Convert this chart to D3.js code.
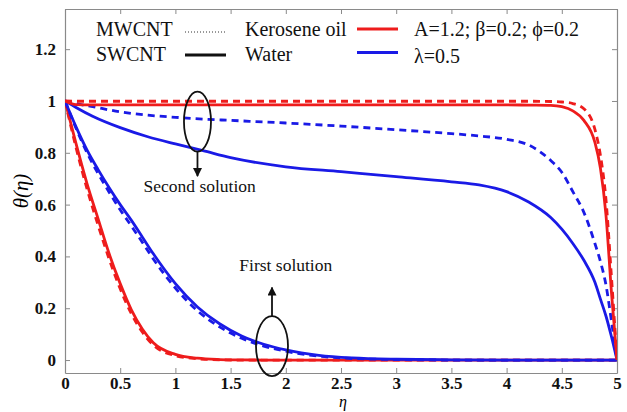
<!DOCTYPE html>
<html>
<head>
<meta charset="utf-8">
<script src="https://cdn.jsdelivr.net/npm/d3@7"></script>
<style>
    body { margin: 0; background: #fff; }
    svg { display: block; }
    .legend-text { font-family: "Liberation Serif", "Times New Roman", serif; font-size: 20px; fill: #111; }
    .note { font-family: "Liberation Serif", "Times New Roman", serif; font-size: 17.5px; fill: #111; }
</style>
</head>
<body>
<svg id="chart" width="627" height="412"></svg>
<script>
// eta grids
const etaFirst = [0, 0.1, 0.2, 0.3, 0.4, 0.5, 0.6, 0.7, 0.8, 1.0, 1.2, 1.4, 1.6, 1.8, 2.0, 2.3, 2.6, 3.0, 3.5, 4.0, 5.0];
const etaSecond = [0, 0.1, 0.25, 0.5, 0.75, 1.0, 1.25, 1.5, 2.0, 2.5, 3.0, 3.5, 3.75, 4.0, 4.2, 4.4, 4.5, 4.6, 4.7, 4.8, 4.85, 4.9, 4.95, 5.0];

// first solution
const redSolidFirst  = [1, 0.835, 0.68, 0.545, 0.41, 0.295, 0.195, 0.12, 0.067, 0.022, 0.007, 0.002, 0.0005, 0, 0, 0, 0, 0, 0, 0, 0];
const redDashFirst   = [1, 0.82, 0.66, 0.52, 0.39, 0.275, 0.18, 0.108, 0.058, 0.017, 0.005, 0.001, 0, 0, 0, 0, 0, 0, 0, 0, 0];
const blueSolidFirst = [1, 0.9, 0.81, 0.735, 0.665, 0.6, 0.54, 0.475, 0.41, 0.295, 0.205, 0.14, 0.093, 0.061, 0.039, 0.018, 0.008, 0.003, 0.001, 0, 0];
const blueDashFirst  = [1, 0.895, 0.8, 0.72, 0.648, 0.58, 0.518, 0.455, 0.39, 0.278, 0.19, 0.128, 0.084, 0.054, 0.034, 0.015, 0.006, 0.002, 0, 0, 0];

// second solution
const redSolidSecond  = [1, 0.986, 0.985, 0.985, 0.985, 0.985, 0.985, 0.985, 0.985, 0.985, 0.985, 0.985, 0.985, 0.985, 0.984, 0.983, 0.978, 0.962, 0.925, 0.84, 0.74, 0.56, 0.26, 0];
const redDashSecond   = [1, 0.999, 0.999, 0.999, 0.999, 0.999, 0.999, 0.999, 0.999, 0.999, 0.999, 0.999, 0.999, 0.999, 0.999, 0.998, 0.996, 0.99, 0.97, 0.89, 0.79, 0.62, 0.32, 0];
const blueSolidSecond = [1, 0.975, 0.941, 0.897, 0.862, 0.834, 0.808, 0.781, 0.746, 0.727, 0.708, 0.688, 0.676, 0.65, 0.61, 0.55, 0.505, 0.45, 0.385, 0.3, 0.235, 0.17, 0.09, 0];
const blueDashSecond  = [1, 0.99, 0.978, 0.958, 0.945, 0.937, 0.93, 0.925, 0.915, 0.903, 0.889, 0.874, 0.865, 0.852, 0.83, 0.77, 0.725, 0.65, 0.57, 0.45, 0.38, 0.29, 0.15, 0];

const xTicks = [0, 0.5, 1, 1.5, 2, 2.5, 3, 3.5, 4, 4.5, 5];
const yTicks = [0, 0.2, 0.4, 0.6, 0.8, 1, 1.2];

const legendLeft = ["MWCNT", "SWCNT"];
const legendMid = ["Kerosene oil", "Water"];
const legendRight = ["A=1.2; β=0.2; ϕ=0.2", "λ=0.5"];

const svg = d3.select("#chart");
const plotLeft = 65, plotRight = 617, plotTop = 9, plotBottom = 373;
const serif = "Liberation Serif";

let x = d3.scaleLinear().domain([0, 5]).range([plotLeft, plotRight]);
let y = d3.scaleLinear().domain([-0.05, 1.355]).range([plotBottom, plotTop]);

const fmt = d3.format("~g");
const frameColor = "#8a8a8a";

// axes (bottom/left labelled, top/right ticks only)
let xAxis = d3.axisBottom(x).tickValues(xTicks).tickFormat(fmt).tickSizeInner(-5).tickSizeOuter(0).tickPadding(4);
let yAxis = d3.axisLeft(y).tickValues(yTicks).tickFormat(fmt).tickSizeInner(-5).tickSizeOuter(0).tickPadding(9);
let xTop = d3.axisTop(x).tickValues(xTicks).tickFormat("").tickSizeInner(-5).tickSizeOuter(0);
let yRight = d3.axisRight(y).tickValues(yTicks).tickFormat("").tickSizeInner(-5).tickSizeOuter(0);

svg.append("g").attr("transform", "translate(0," + plotBottom + ")").call(xAxis);
svg.append("g").attr("transform", "translate(" + plotLeft + ",0)").call(yAxis);
svg.append("g").attr("transform", "translate(0," + plotTop + ")").call(xTop);
svg.append("g").attr("transform", "translate(" + plotRight + ",0)").call(yRight);

svg.selectAll(".domain").attr("stroke", frameColor).attr("stroke-width", 1.2);
svg.selectAll(".tick line").attr("stroke", frameColor);
svg.selectAll(".tick text")
    .attr("font-family", serif)
    .attr("font-weight", "bold")
    .attr("font-size", 17)
    .attr("fill", "#111");

// clip
svg.append("clipPath").attr("id", "clip")
    .append("rect").attr("x", plotLeft).attr("y", plotTop).attr("width", plotRight - plotLeft).attr("height", plotBottom - plotTop);

const plot = svg.append("g").attr("clip-path", "url(#clip)");

const line = d3.line()
    .x(d => x(d[0]))
    .y(d => y(d[1]))
    .curve(d3.curveMonotoneX);

const curves = [
    { eta: etaFirst, vals: redSolidFirst, color: "#ee1c1c", dash: null },
    { eta: etaFirst, vals: redDashFirst, color: "#ee1c1c", dash: "7,5" },
    { eta: etaFirst, vals: blueDashFirst, color: "#1a1ae6", dash: "7,5" },
    { eta: etaFirst, vals: blueSolidFirst, color: "#1a1ae6", dash: null },
    { eta: etaSecond, vals: blueDashSecond, color: "#1a1ae6", dash: "7,5" },
    { eta: etaSecond, vals: blueSolidSecond, color: "#1a1ae6", dash: null },
    { eta: etaSecond, vals: redDashSecond, color: "#ee1c1c", dash: "7,5" },
    { eta: etaSecond, vals: redSolidSecond, color: "#ee1c1c", dash: null },
];

curves.forEach(c => {
    plot.append("path")
        .datum(c.eta.map((e, i) => [e, c.vals[i]]))
        .attr("fill", "none")
        .attr("stroke", c.color)
        .attr("stroke-width", 2.8)
        .attr("stroke-dasharray", c.dash)
        .attr("d", line);
});

// annotations
svg.append("defs").append("marker")
    .attr("id", "arrow").attr("viewBox", "0 0 10 10")
    .attr("refX", 9).attr("refY", 5)
    .attr("markerWidth", 9).attr("markerHeight", 9)
    .attr("markerUnits", "userSpaceOnUse")
    .attr("orient", "auto")
    .append("path").attr("d", "M0,0 L10,5 L0,10 Z").attr("fill", "#111");

// second solution
svg.append("ellipse")
    .attr("cx", x(1.2)).attr("cy", y(0.92)).attr("rx", 13.5).attr("ry", 30)
    .attr("fill", "none").attr("stroke", "#111").attr("stroke-width", 1.8);
svg.append("line")
    .attr("x1", x(1.2)).attr("y1", y(0.92) + 30).attr("x2", x(1.2)).attr("y2", y(0.71))
    .attr("stroke", "#111").attr("stroke-width", 1.8).attr("marker-end", "url(#arrow)");
svg.append("text").attr("class", "note")
    .attr("x", x(1.22)).attr("y", y(0.65)).attr("text-anchor", "middle")
    .text("Second solution");

// first solution
svg.append("ellipse")
    .attr("cx", x(1.875)).attr("cy", y(0.054)).attr("rx", 16).attr("ry", 30)
    .attr("fill", "none").attr("stroke", "#111").attr("stroke-width", 1.8);
svg.append("line")
    .attr("x1", x(1.875)).attr("y1", y(0.054) - 30).attr("x2", x(1.875)).attr("y2", y(0.28))
    .attr("stroke", "#111").attr("stroke-width", 1.8).attr("marker-end", "url(#arrow)");
svg.append("text").attr("class", "note")
    .attr("x", x(2.0)).attr("y", y(0.344)).attr("text-anchor", "middle")
    .text("First solution");

// legend
const legend = svg.append("g");
const rowY = [36, 61];

legend.selectAll(".l1").data(legendLeft).enter().append("text")
    .attr("class", "legend-text").attr("x", 96).attr("y", (d, i) => rowY[i]).text(d => d);
legend.selectAll(".l2").data(legendMid).enter().append("text")
    .attr("class", "legend-text").attr("x", 245).attr("y", (d, i) => rowY[i]).text(d => d);
legend.selectAll(".l3").data(legendRight).enter().append("text")
    .attr("class", "legend-text").attr("x", 414).attr("y", (d, i) => rowY[i] + (i ? 2 : 0)).text(d => d);

legend.append("line").attr("x1", 185).attr("x2", 226).attr("y1", 32).attr("y2", 32)
    .attr("stroke", "#333").attr("stroke-width", 1).attr("stroke-dasharray", "1,2");
legend.append("line").attr("x1", 185).attr("x2", 226).attr("y1", 55).attr("y2", 55)
    .attr("stroke", "#111").attr("stroke-width", 3);
legend.append("line").attr("x1", 357).attr("x2", 398).attr("y1", 29).attr("y2", 29)
    .attr("stroke", "#ee1c1c").attr("stroke-width", 3);
legend.append("line").attr("x1", 357).attr("x2", 398).attr("y1", 52.5).attr("y2", 52.5)
    .attr("stroke", "#1a1ae6").attr("stroke-width", 3);

// axis titles
svg.append("text")
    .attr("transform", "translate(28," + ((plotTop + plotBottom) / 2) + ") rotate(-90)")
    .attr("text-anchor", "middle")
    .attr("font-family", serif).attr("font-style", "italic").attr("font-size", 21)
    .text("θ(η)");

svg.append("text")
    .attr("x", (plotLeft + plotRight) / 2 + 2).attr("y", 407)
    .attr("text-anchor", "middle")
    .attr("font-family", serif).attr("font-style", "italic").attr("font-size", 16)
    .text("η");
</script>
</body>
</html>
